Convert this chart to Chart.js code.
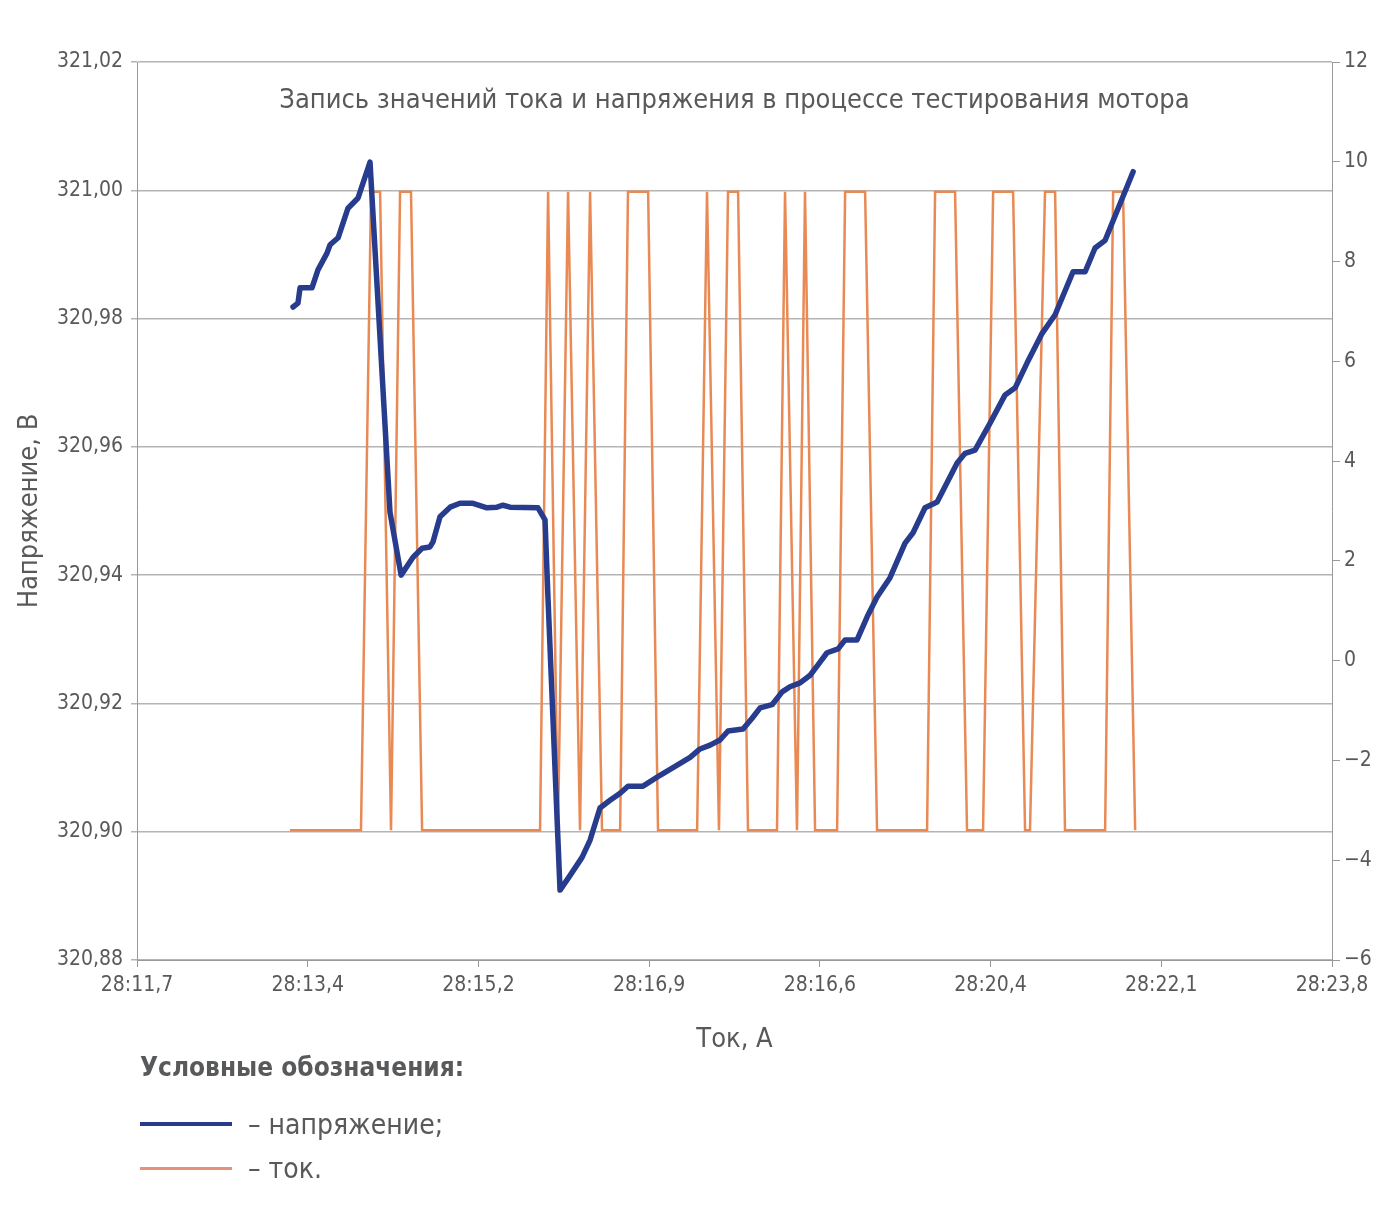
<!DOCTYPE html>
<html lang="ru">
<head>
<meta charset="utf-8">
<script src="https://cdn.jsdelivr.net/npm/chart.js@4.4.1/dist/chart.umd.min.js"></script>
<style>
  body { margin: 0; background: #fff; }
  #wrap { position: relative; width: 1392px; height: 1208px; }
  #mainChart { position: absolute; left: 0; top: 0; }
  .legend { position: absolute; left: 140px; top: 1052px; color: #58595b;
            font-family: "Liberation Sans Narrow", "DejaVu Sans Condensed", Roboto, sans-serif; }
  .legend-title { font-size: 26px; font-weight: bold; height: 38px; }
  .legend-row { font-size: 28px; height: 44px; display: flex; align-items: center; }
  .swatch { display: inline-block; width: 92px; margin-right: 16px; }
</style>
</head>
<body>
<div id="wrap">
  <canvas id="mainChart" width="1392" height="1060"></canvas>
  <div class="legend">
    <div class="legend-title">Условные обозначения:</div>
    <div class="legend-row" style="margin-top:12px"><span class="swatch" style="border-top:4px solid #283c8e"></span>– напряжение;</div>
    <div class="legend-row"><span class="swatch" style="border-top:3px solid #e8917a"></span>– ток.</div>
  </div>
</div>
<script>
const FONT = '"Liberation Sans Narrow", "DejaVu Sans Condensed", Roboto, sans-serif';
const TEXT_COLOR = '#58595b';

const chartTitle = 'Запись значений тока и напряжения в процессе тестирования мотора';
const tickLabels = ['28:11,7', '28:13,4', '28:15,2', '28:16,9', '28:16,6', '28:20,4', '28:22,1', '28:23,8'];

// напряжение, В (x in tick-label units)
const voltageX = [
  0.914, 0.943, 0.955, 1.025, 1.060, 1.113, 1.131, 1.178, 1.236, 1.295,
  1.365, 1.482, 1.547, 1.617, 1.670, 1.716, 1.734, 1.775, 1.834, 1.892,
  1.968, 2.050, 2.109, 2.144, 2.185, 2.349, 2.390, 2.408, 2.478, 2.537,
  2.607, 2.654, 2.712, 2.771, 2.830, 2.876, 2.964, 3.064, 3.152, 3.240,
  3.298, 3.357, 3.415, 3.462, 3.550, 3.603, 3.650, 3.720, 3.779, 3.825,
  3.884, 3.943, 3.989, 4.042, 4.107, 4.148, 4.218, 4.277, 4.335, 4.411,
  4.499, 4.546, 4.616, 4.687, 4.804, 4.851, 4.909, 4.997, 5.085, 5.144,
  5.214, 5.302, 5.378, 5.483, 5.554, 5.612, 5.671, 5.835
];
const voltageY = [
  320.9818, 320.9824, 320.9848, 320.9848, 320.9876, 320.9902, 320.9915, 320.9926, 320.9972, 320.9988,
  321.0044, 320.9498, 320.9400, 320.9428, 320.9442, 320.9444, 320.9452, 320.9491, 320.9506, 320.9512,
  320.9512, 320.9505, 320.9506, 320.9509, 320.9506, 320.9505, 320.9486, 320.9361, 320.8909, 320.8932,
  320.8960, 320.8987, 320.9037, 320.9049, 320.9060, 320.9071, 320.9071, 320.9088, 320.9102, 320.9116,
  320.9129, 320.9135, 320.9143, 320.9157, 320.9160, 320.9177, 320.9193, 320.9198, 320.9218, 320.9226,
  320.9232, 320.9244, 320.9260, 320.9279, 320.9285, 320.9299, 320.9299, 320.9335, 320.9366, 320.9396,
  320.9450, 320.9466, 320.9505, 320.9514, 320.9575, 320.9590, 320.9595, 320.9637, 320.9681, 320.9692,
  320.9731, 320.9777, 320.9806, 320.9873, 320.9873, 320.9910, 320.9922, 321.0029
];

// ток, А (right axis)
const currentX = [
  0.896, 1.312, 1.371, 1.424, 1.488, 1.541, 1.605, 1.670, 2.361, 2.408,
  2.466, 2.525, 2.595, 2.654, 2.724, 2.830, 2.876, 2.994, 3.052, 3.281,
  3.339, 3.409, 3.462, 3.521, 3.579, 3.749, 3.796, 3.866, 3.913, 3.972,
  4.101, 4.148, 4.265, 4.335, 4.628, 4.675, 4.792, 4.862, 4.956, 5.015,
  5.132, 5.202, 5.231, 5.319, 5.378, 5.436, 5.671, 5.718, 5.776, 5.847
];
const currentY = [
  -3.4, -3.4, 9.4, 9.4, -3.4, 9.4, 9.4, -3.4, -3.4, 9.4,
  -3.4, 9.4, -3.4, 9.4, -3.4, -3.4, 9.4, 9.4, -3.4, -3.4,
  9.4, -3.4, 9.4, 9.4, -3.4, -3.4, 9.4, -3.4, 9.4, -3.4,
  -3.4, 9.4, 9.4, -3.4, -3.4, 9.4, 9.4, -3.4, -3.4, 9.4,
  9.4, -3.4, -3.4, 9.4, 9.4, -3.4, -3.4, 9.4, 9.4, -3.4
];

let titleInside = {
  id: 'titleInside',
  afterDraw: (chart) => {
    let ctx = chart.ctx,
        area = chart.chartArea;
    ctx.save();
    ctx.font = '27px ' + FONT;
    ctx.fillStyle = TEXT_COLOR;
    ctx.textAlign = 'center';
    ctx.textBaseline = 'middle';
    ctx.fillText(chartTitle, (area.left + area.right) / 2, area.top + 39);
    ctx.restore();
  }
};

let init = () => {
  let ctx = document.getElementById('mainChart').getContext('2d');
  new Chart(ctx, {
    type: 'line',
    data: {
      datasets: [
        {
          label: 'напряжение',
          data: voltageX.map((x, i) => ({ x: x, y: voltageY[i] })),
          yAxisID: 'y',
          borderColor: '#283c8e',
          borderWidth: 5.5,
          pointRadius: 0,
          borderCapStyle: 'round',
          borderJoinStyle: 'round'
        },
        {
          label: 'ток',
          data: currentX.map((x, i) => ({ x: x, y: currentY[i] })),
          yAxisID: 'y2',
          borderColor: '#e98a55',
          borderWidth: 2.5,
          pointRadius: 0
        }
      ]
    },
    options: {
      responsive: false,
      animation: false,
      layout: { padding: { top: 62, left: 0, right: 0, bottom: 0 } },
      plugins: { legend: { display: false }, tooltip: { enabled: false } },
      scales: {
        x: {
          type: 'linear',
          min: 0,
          max: 7,
          ticks: {
            stepSize: 1,
            callback: (v) => tickLabels[v],
            font: { family: FONT, size: 21 },
            color: TEXT_COLOR,
            padding: 6,
            maxRotation: 0
          },
          grid: { drawOnChartArea: false, tickLength: 7, color: '#999' },
          border: { color: '#999' },
          title: { display: true, text: 'Ток, А', font: { family: FONT, size: 27 }, color: TEXT_COLOR, padding: { top: 26 } },
          afterFit: (s) => { s.height = 100; }
        },
        y: {
          position: 'left',
          min: 320.88,
          max: 321.02,
          ticks: {
            stepSize: 0.02,
            callback: (v) => v.toFixed(2).replace('.', ','),
            font: { family: FONT, size: 21 },
            color: TEXT_COLOR,
            padding: 8
          },
          grid: { color: '#b4b4b4', lineWidth: 1.5, tickLength: 6 },
          border: { color: '#999' },
          title: { display: true, text: 'Напряжение, В', font: { family: FONT, size: 27 }, color: TEXT_COLOR, padding: { top: 14, bottom: 0 } },
          afterFit: (s) => { s.width = 137; }
        },
        y2: {
          position: 'right',
          min: -6,
          max: 12,
          ticks: {
            stepSize: 2,
            callback: (v) => String(v).replace('-', '−'),
            font: { family: FONT, size: 21 },
            color: TEXT_COLOR,
            padding: 4
          },
          grid: { drawOnChartArea: false, tickLength: 8, color: '#999' },
          border: { color: '#999' },
          afterFit: (s) => { s.width = 60; }
        }
      }
    },
    plugins: [titleInside]
  });
};

init();
</script>
</body>
</html>
